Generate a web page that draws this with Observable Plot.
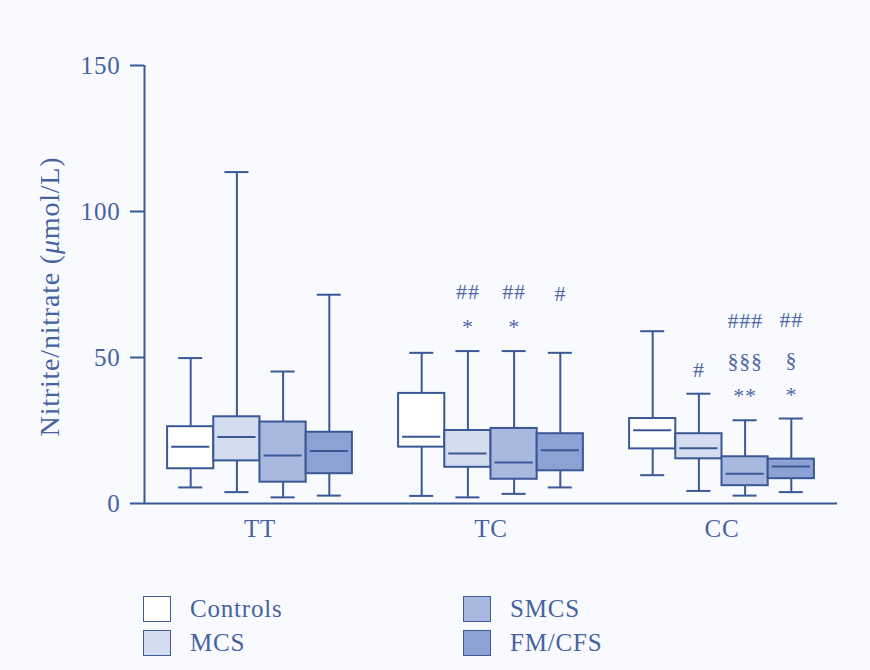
<!DOCTYPE html>
<html>
<head>
<meta charset="utf-8">
<script src="https://cdn.jsdelivr.net/npm/d3@7"></script>
<script src="https://cdn.jsdelivr.net/npm/@observablehq/plot@0.6"></script>
<style>
  html, body { margin: 0; padding: 0; background: #f8fafd; }
  body { width: 870px; height: 670px; overflow: hidden; font-family: "Liberation Serif", serif; }
  #chart svg text { letter-spacing: 0.8px; }
  #legend { position: relative; margin-top: 22px; margin-left: 143px; display: grid; grid-template-columns: 320px 320px; grid-auto-rows: 34px; color: #4762a3; font-size: 25px; letter-spacing: 0.8px; }
  .item { display: flex; align-items: center; }
  .sw { width: 26px; height: 24px; border: 1.5px solid #3f5b9a; margin-right: 19px; flex: none; }
</style>
</head>
<body>
<div id="chart"></div>
<div id="legend"></div>
<script>
const groups = ["TT", "TC", "CC"];
const series = ["Controls", "MCS", "SMCS", "FM/CFS"];
const fills = ["#ffffff", "#d4dcef", "#a9b8de", "#8ca2d4"];

// rows: group (TT, TC, CC); columns: series (Controls, MCS, SMCS, FM/CFS)
const whiskerLow  = [[5.5, 3.9, 2.1, 2.7], [2.6, 2.1, 3.3, 5.5], [9.7, 4.3, 2.7, 3.9]];
const quartile1   = [[11.9, 14.6, 7.3, 10.2], [19.3, 12.4, 8.3, 11.2], [18.7, 15.3, 6.1, 8.5]];
const medians     = [[19.4, 22.8, 16.4, 18.0], [22.9, 17.1, 14.0, 18.2], [25.1, 18.9, 10.2, 12.7]];
const quartile3   = [[26.3, 29.7, 27.9, 24.4], [37.7, 25.0, 25.7, 23.9], [29.1, 23.9, 16.0, 15.2]];
const whiskerHigh = [[49.8, 113.5, 45.2, 71.5], [51.6, 52.2, 52.2, 51.6], [59.0, 37.6, 28.5, 29.1]];

const yTicks = [0, 50, 100, 150];
const yLabel = "Nitrite/nitrate (μmol/L)";

// significance annotations
const annGroup  = ["TC", "TC", "TC", "TC", "TC", "CC", "CC", "CC", "CC", "CC", "CC", "CC"];
const annSeries = ["MCS", "MCS", "SMCS", "SMCS", "FM/CFS", "MCS", "SMCS", "SMCS", "SMCS", "FM/CFS", "FM/CFS", "FM/CFS"];
const annText   = ["*", "##", "*", "##", "#", "#", "**", "§§§", "###", "*", "§", "##"];
const annRow    = [1, 2, 1, 2, 2, 1, 1, 2, 3, 1, 2, 3];

const boxW = 0.2;     // share of a group slot taken by one box
const capHalf = 0.052;

const boxes = groups.flatMap((g, gi) => series.map((s, si) => {
  const c = gi + (si - 1.5) * boxW;
  return {group: g, series: s, c, x1: c - boxW / 2, x2: c + boxW / 2,
    lo: whiskerLow[gi][si], q1: quartile1[gi][si], med: medians[gi][si],
    q3: quartile3[gi][si], hi: whiskerHigh[gi][si]};
}));

const anns = annText.map((t, i) => {
  const b = boxes.find(d => d.group === annGroup[i] && d.series === annSeries[i]);
  return {text: t, row: annRow[i], c: b.c, y: b.hi};
});

const stroke = "#3b5896";
const rowDy = {1: -24, 2: -59, 3: -99};
const xDomain = [-0.5, 2.5];
const yDomain = [0, 150];

const plot = Plot.plot({
  width: 870,
  height: 570,
  marginTop: 65,
  marginBottom: 67,
  marginLeft: 144,
  marginRight: 33,
  style: {fontFamily: "Liberation Serif, serif", fontSize: "25px", color: "#4762a3", background: "#f8fafd"},
  x: {domain: xDomain},
  y: {domain: yDomain},
  color: {domain: series, range: fills},
  marks: [
    Plot.axisY({ticks: yTicks, tickSize: 14, tickPadding: 10, label: yLabel, labelArrow: "none", labelAnchor: "center", labelOffset: 105, strokeWidth: 2, stroke: stroke}),
    Plot.axisX({ticks: [0, 1, 2], tickFormat: i => groups[i], tickSize: 0, tickPadding: 16, label: null}),
    Plot.ruleX([xDomain[0]], {y1: yDomain[0], y2: yDomain[1], stroke, strokeWidth: 2}),
    Plot.ruleY([yDomain[0]], {x1: xDomain[0], x2: xDomain[1], stroke, strokeWidth: 2.2}),
    Plot.ruleX(boxes, {x: "c", y1: "q3", y2: "hi", stroke, strokeWidth: 2}),
    Plot.ruleX(boxes, {x: "c", y1: "lo", y2: "q1", stroke, strokeWidth: 2}),
    Plot.ruleY(boxes, {y: "hi", x1: d => d.c - capHalf, x2: d => d.c + capHalf, stroke, strokeWidth: 2}),
    Plot.ruleY(boxes, {y: "lo", x1: d => d.c - capHalf, x2: d => d.c + capHalf, stroke, strokeWidth: 2}),
    Plot.rect(boxes, {x1: "x1", x2: "x2", y1: "q1", y2: "q3", fill: "series", stroke, strokeWidth: 2}),
    Plot.ruleY(boxes, {y: "med", x1: "x1", x2: "x2", insetLeft: 4, insetRight: 4, stroke, strokeWidth: 2}),
    ...[1, 2, 3].map(r => Plot.text(anns.filter(a => a.row === r), {x: "c", y: "y", text: "text", dy: rowDy[r], fontSize: 22, fill: "#4d68a8"}))
  ]
});
document.getElementById("chart").appendChild(plot);

// clean y label: drop any arrow, italic mu, larger size, nudged slightly down
plot.querySelectorAll("text").forEach(t => {
  if (t.textContent.includes("mol/L")) {
    t.textContent = "";
    const parts = yLabel.split("μ");
    const ns = "http://www.w3.org/2000/svg";
    const a = document.createElementNS(ns, "tspan"); a.textContent = parts[0];
    const m = document.createElementNS(ns, "tspan"); m.textContent = "μ"; m.setAttribute("font-style", "italic");
    const b = document.createElementNS(ns, "tspan"); b.textContent = parts[1];
    t.append(a, m, b);
    t.setAttribute("font-size", "28px");
    a.setAttribute("dx", "-12");
  }
});

const legend = document.getElementById("legend");
const order = [0, 2, 1, 3];
order.forEach(i => {
  const it = document.createElement("div");
  it.className = "item";
  const sw = document.createElement("span");
  sw.className = "sw";
  sw.style.background = fills[i];
  const lab = document.createElement("span");
  lab.textContent = series[i];
  it.append(sw, lab);
  legend.appendChild(it);
});
</script>
</body>
</html>
